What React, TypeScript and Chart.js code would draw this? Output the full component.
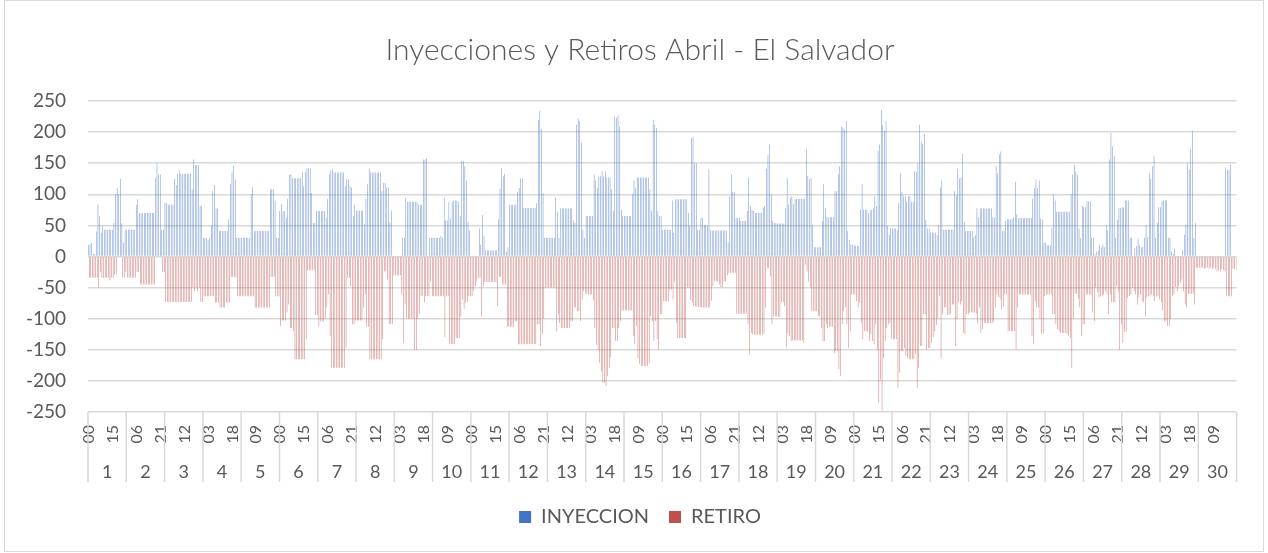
import { useEffect, useRef } from "react";
import { Chart, registerables } from "chart.js";

Chart.register(...registerables);

const titulo = "Inyecciones y Retiros Abril - El Salvador";
const dias: string[] = ["1","2","3","4","5","6","7","8","9","10","11","12","13","14","15","16","17","18","19","20","21","22","23","24","25","26","27","28","29","30"];
const horasDia: string[] = ["00","01","02","03","04","05","06","07","08","09","10","11","12","13","14","15","16","17","18","19","20","21","22","23"];
const horas: string[] = dias.flatMap(() => horasDia);

// INYECCION (MW), one row per day, hours 00..23
const inyeccion: number[] = [
  18,20,22,4,4,40,83,65,38,49,43,43,43,43,43,43,54,100,110,100,125,54,22,43,
  43,43,43,43,43,43,83,92,70,70,70,70,70,70,70,70,70,70,126,150,132,132,43,43,
  86,86,83,83,83,83,125,115,133,138,133,133,133,133,133,133,133,108,156,147,147,147,81,81,
  30,30,30,26,30,50,105,115,77,77,41,41,41,41,41,41,60,117,135,146,124,30,30,30,
  30,30,30,30,30,30,100,112,41,41,41,41,41,41,41,41,41,41,108,108,108,90,30,30,
  73,85,73,73,62,93,132,132,126,126,126,126,126,126,136,113,136,142,142,142,102,54,54,73,
  73,73,73,73,73,62,93,132,138,141,135,135,135,135,135,135,135,113,124,124,113,111,65,83,
  74,74,74,74,74,52,93,116,141,135,135,135,135,135,135,135,105,118,118,111,111,55,74,0,
  0,0,0,0,0,30,30,94,88,88,88,88,88,88,88,83,83,83,156,156,158,0,30,30,
  30,30,30,30,30,33,30,95,58,58,88,61,88,90,90,90,88,65,153,153,145,122,56,42,
  0,0,0,0,0,45,19,67,33,10,10,10,10,10,10,10,10,60,109,142,129,133,8,15,
  83,83,83,83,83,104,110,126,126,78,78,78,78,78,78,78,78,86,220,234,205,102,30,30,
  30,30,30,30,30,95,72,30,77,77,77,77,77,77,77,77,58,54,212,222,218,183,43,30,
  65,65,65,65,65,132,122,110,129,129,137,129,137,127,127,127,108,73,225,223,227,209,75,65,
  65,65,65,65,65,100,122,110,127,127,127,127,127,127,127,127,108,73,220,212,207,73,65,65,
  43,43,43,43,43,43,90,38,92,92,92,92,92,92,92,92,70,49,190,192,150,150,43,43,
  62,62,51,51,49,140,43,41,42,42,42,42,42,42,42,42,42,22,97,132,104,104,62,62,
  62,57,57,57,57,73,127,81,75,73,70,70,70,70,70,78,81,141,163,180,100,57,54,54,
  53,53,53,53,53,78,126,83,94,97,85,92,93,93,93,93,93,93,173,129,124,126,51,15,
  15,15,15,15,57,116,78,63,63,63,63,63,105,105,132,145,209,207,204,218,41,27,19,19,
  19,17,17,17,75,117,75,75,75,70,74,75,77,97,81,170,180,236,212,202,218,49,35,46,
  45,45,45,42,86,134,104,97,97,88,97,97,88,88,137,136,150,212,185,181,197,59,45,45,
  38,38,38,38,34,51,111,122,43,43,43,43,43,43,43,105,98,141,126,127,165,55,41,41,
  41,41,41,31,34,77,63,77,77,77,77,77,77,77,77,63,62,145,134,164,169,41,41,57,
  60,60,60,60,63,120,68,62,62,62,62,62,62,62,62,62,93,110,124,110,122,61,59,22,
  22,18,18,18,46,100,90,72,72,72,72,72,72,72,72,72,100,132,147,138,132,45,30,81,
  79,79,89,89,89,30,30,4,8,10,19,15,19,15,51,42,156,199,177,161,30,59,78,78,
  79,79,90,90,90,30,30,0,14,17,29,18,15,15,30,51,31,134,125,145,161,30,54,79,
  79,90,90,90,90,30,30,8,4,13,0,0,0,0,11,35,51,150,140,173,202,30,54,0,
  0,0,0,0,0,0,0,0,0,0,0,0,0,0,0,0,0,143,140,138,148,0,0,0,
];

// RETIRO (MW), one row per day, hours 00..23
const retiro: number[] = [
  -34,-34,-34,-34,-34,-34,-50,-25,-34,-34,-34,-34,-34,-38,-34,-34,-29,-29,0,0,0,-34,-34,-25,
  -34,-34,-34,-34,-34,-34,-25,-25,-45,-45,-45,-45,-45,-45,-45,-45,-45,-45,0,0,0,0,-25,-25,
  -73,-73,-73,-73,-73,-73,-73,-73,-73,-73,-73,-73,-73,-73,-73,-73,-73,-50,-56,-50,-56,-50,-73,-73,
  -64,-64,-64,-64,-64,-64,-64,-74,-74,-74,-82,-82,-82,-82,-74,-74,-74,-33,-33,-33,-33,-64,-64,-64,
  -64,-64,-64,-64,-64,-64,-64,-64,-82,-82,-82,-82,-82,-82,-82,-82,-82,-82,-33,-33,-33,-64,-64,-64,
  -112,-103,-103,-103,-90,-77,-115,-115,-120,-165,-165,-165,-165,-165,-165,-165,-133,-22,-22,-22,-22,-22,-94,-94,
  -112,-104,-104,-104,-100,-82,-61,-128,-179,-179,-179,-179,-179,-179,-179,-179,-179,-147,-34,-34,-48,-109,-109,-103,
  -103,-103,-103,-103,-82,-61,-113,-113,-165,-165,-165,-165,-165,-165,-165,-165,-133,-24,-24,-37,-109,-109,-109,-30,
  -30,-30,-30,-30,-61,-139,-77,-100,-100,-100,-100,-100,-150,-150,-100,-92,-63,-63,-74,-64,-64,-64,-40,-64,
  -64,-64,-64,-64,-64,-64,-64,-130,-64,-64,-141,-141,-141,-141,-131,-131,-131,-97,-69,-84,-74,-73,-64,-64,
  -64,-55,-48,-40,-34,-34,-96,-48,-41,-41,-41,-41,-41,-41,-41,-41,-80,-33,-33,-45,-45,-45,-113,-113,
  -113,-113,-113,-104,-104,-141,-141,-141,-141,-141,-141,-141,-141,-141,-141,-141,-141,-109,-109,-144,-124,-100,-50,-50,
  -50,-50,-50,-50,-50,-120,-93,-107,-115,-115,-115,-115,-115,-115,-104,-104,-82,-82,-88,-88,-104,-69,-56,-60,
  -61,-61,-61,-61,-70,-115,-142,-150,-171,-185,-203,-203,-208,-192,-179,-162,-115,-115,-136,-136,-115,-104,-87,-87,
  -87,-87,-87,-87,-87,-128,-141,-112,-163,-173,-176,-176,-176,-176,-176,-172,-96,-104,-136,-104,-133,-150,-93,-93,
  -72,-72,-72,-72,-53,-53,-69,-40,-107,-131,-131,-131,-131,-131,-131,-50,-50,-70,-74,-80,-80,-81,-81,-81,
  -82,-82,-82,-82,-82,-82,-71,-48,-40,-40,-40,-45,-49,-49,-40,-40,-30,-26,-26,-26,-26,-26,-92,-92,
  -92,-92,-92,-92,-92,-109,-157,-123,-125,-126,-126,-126,-126,-126,-126,-124,-82,-18,-18,-32,-109,-96,-96,-96,
  -97,-97,-73,-73,-80,-146,-123,-128,-136,-135,-135,-135,-135,-135,-135,-135,-139,-13,-24,-40,-50,-88,-88,-88,
  -88,-96,-96,-115,-136,-136,-109,-115,-113,-113,-113,-155,-152,-152,-181,-192,-109,-88,-82,-109,-147,-120,-61,-61,
  -61,-72,-82,-74,-107,-133,-120,-120,-121,-136,-125,-136,-141,-109,-150,-235,-198,-248,-163,-136,-115,-109,-107,-133,
  -133,-133,-133,-211,-187,-152,-152,-147,-160,-163,-165,-165,-165,-165,-157,-211,-179,-144,-144,-93,-93,-150,-147,-147,
  -139,-130,-120,-110,-100,-64,-163,-93,-82,-82,-94,-94,-92,-77,-77,-144,-100,-74,-77,-72,-123,-125,-93,-93,
  -90,-90,-90,-90,-92,-108,-82,-123,-117,-107,-107,-107,-107,-107,-107,-105,-82,-61,-65,-69,-85,-80,-61,-61,
  -120,-120,-120,-120,-120,-150,-82,-61,-61,-61,-61,-61,-61,-61,-61,-128,-141,-72,-82,-82,-100,-124,-124,-64,
  -61,-61,-61,-61,-93,-93,-109,-117,-120,-123,-123,-123,-123,-125,-128,-131,-179,-100,-60,-60,-68,-82,-128,-109,
  -109,-61,-61,-61,-61,-90,-104,-50,-58,-66,-64,-64,-61,-56,-61,-93,-61,-73,-73,-73,-48,-58,-150,-109,
  -139,-121,-121,-67,-64,-61,-50,-56,-61,-77,-66,-61,-72,-74,-96,-66,-64,-64,-61,-64,-72,-64,-64,-69,
  -74,-87,-104,-104,-112,-112,-100,-64,-61,-49,-56,-48,-42,-37,-56,-77,-82,-60,-60,-60,-60,-77,-18,-18,
  -18,-18,-18,-20,-18,-18,-20,-18,-20,-18,-20,-24,-22,-24,-20,-22,-24,-64,-64,-64,-64,-20,-20,-22,
];

const yTicks: number[] = [-250, -200, -150, -100, -50, 0, 50, 100, 150, 200, 250];

const GRIS_TEXTO = "#595959";
const GRIS_LINEA = "#d9d9d9";
const FUENTE = "Lato, 'Open Sans', sans-serif";

const decoracion = {
  id: "decoracion",
  afterDraw(chart: any) {
    const ctx = chart.ctx;
    const xs = chart.scales.x;
    const half = (xs.getPixelForValue(1) - xs.getPixelForValue(0)) / 2;
    const bottom = chart.chartArea.bottom;
    ctx.save();
    ctx.strokeStyle = GRIS_LINEA;
    ctx.lineWidth = 1.5;
    for (let d = 0; d <= dias.length; d++) {
      const px = d < dias.length
        ? xs.getPixelForValue(d * 24) - half
        : xs.getPixelForValue(dias.length * 24 - 1) + half;
      ctx.beginPath();
      ctx.moveTo(px, bottom);
      ctx.lineTo(px, bottom + 70);
      ctx.stroke();
    }
    ctx.lineWidth = 1;
    ctx.strokeRect(4.5, 0.5, 1259, 551);
    ctx.restore();
  },
};

export default function App() {
  const ref = useRef<HTMLCanvasElement | null>(null);
  useEffect(() => {
    if (!ref.current) return;
    const chart = new Chart(ref.current, {
      type: "bar",
      data: {
        labels: horas,
        datasets: [
          {
            label: "INYECCION",
            data: inyeccion,
            backgroundColor: "#4472C4",
            borderWidth: 0,
            categoryPercentage: 1,
            barPercentage: 0.5,
          },
          {
            label: "RETIRO",
            data: retiro,
            backgroundColor: "#C0504D",
            borderWidth: 0,
            categoryPercentage: 1,
            barPercentage: 0.5,
          },
        ],
      },
      options: {
        animation: false,
        responsive: false,
        maintainAspectRatio: false,
        layout: { padding: { left: 22, right: 10, top: 0, bottom: 16 } },
        plugins: {
          title: {
            display: true,
            text: titulo,
            color: GRIS_TEXTO,
            font: { family: FUENTE, size: 30, weight: "300" as any },
            padding: { top: 32, bottom: 33 },
          },
          legend: {
            position: "bottom",
            labels: {
              color: GRIS_TEXTO,
              font: { family: FUENTE, size: 20 },
              boxWidth: 12,
              boxHeight: 12,
              padding: 20,
            },
          },
          tooltip: { enabled: false },
        },
        scales: {
          x: {
            type: "category",
            position: "bottom",
            weight: 0,
            grid: { display: false, drawTicks: false },
            border: { display: false },
            ticks: {
              autoSkip: false,
              minRotation: 90,
              maxRotation: 90,
              padding: 13,
              color: GRIS_TEXTO,
              font: { family: FUENTE, size: 16 },
              callback: (_v: any, i: number) => (i % 15 === 0 ? horas[i] : ""),
            },
            afterFit: (s: any) => { s.height = 36; },
          },
          dia: {
            type: "category",
            labels: dias,
            position: "bottom",
            offset: true,
            weight: 1,
            grid: { display: false, drawTicks: false },
            border: { display: false },
            ticks: {
              autoSkip: false,
              maxRotation: 0,
              minRotation: 0,
              padding: 13,
              color: GRIS_TEXTO,
              font: { family: FUENTE, size: 18 },
            },
            afterFit: (s: any) => { s.height = 39; },
          },
          y: {
            min: yTicks[0],
            max: yTicks[yTicks.length - 1],
            afterBuildTicks: (s: any) => { s.ticks = yTicks.map((v) => ({ value: v })); },
            ticks: { padding: 22, color: GRIS_TEXTO, font: { family: FUENTE, size: 19 } },
            grid: { color: GRIS_LINEA, lineWidth: 1.5, drawTicks: false },
            border: { display: false },
            afterFit: (s: any) => { s.width = 66; },
          },
          margenDerecho: {
            type: "linear",
            position: "right",
            display: true,
            grid: { display: false, drawTicks: false, drawOnChartArea: false },
            border: { display: false },
            ticks: { display: false },
            afterFit: (s: any) => { s.width = 16; },
          },
        },
      } as any,
      plugins: [decoracion],
    });
    return () => chart.destroy();
  }, []);
  return (
    <div style={{ position: "fixed", left: 0, top: 0, width: 1268, height: 553, background: "#fff" }}>
      <canvas ref={ref} width={1268} height={553} style={{ width: 1268, height: 553, display: "block" }} />
    </div>
  );
}
